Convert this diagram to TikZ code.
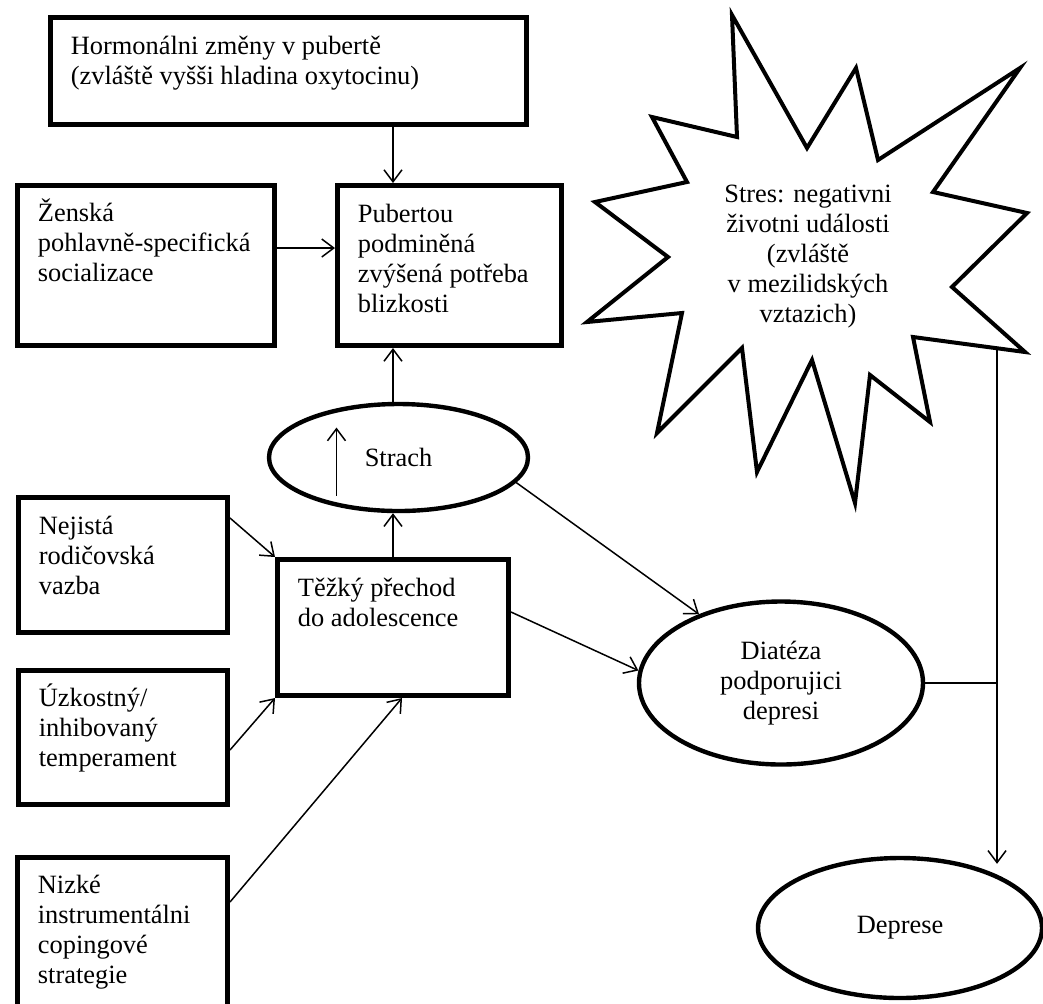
\documentclass[tikz,border=0pt]{standalone}
\usepackage{fontspec}
\setmainfont{Liberation Serif}
\usetikzlibrary{arrows.meta, shapes.geometric, calc}

\begin{document}
\begin{tikzpicture}[
  x=0.5pt, y=-0.5pt,
  >={Straight Barb[length=6pt, width=9pt]},
  every node/.style = {font=\fontsize{13.2}{15}\selectfont},
  box/.style    = {draw, rectangle, line width=2.5pt, inner sep=0pt},
  oval/.style   = {draw, ellipse, line width=2.2pt, inner sep=0pt, align=center},
  intext/.style = {anchor=north west, align=left, inner sep=0pt, xshift=11.25pt, yshift=-10.25pt},
  hightop/.style = {yshift=2.75pt},
  link/.style   = {->, line width=0.75pt},
]
  \useasboundingbox (0,0) rectangle (1043,1003);

  % boxes
  \node[box, minimum width=238pt, minimum height=53.5pt,
        label={[intext]north west:{Hormonálni změny v pubertě\\(zvláště vyšši hladina oxytocinu)}}]
        (horm) at (288.5,71) {};
  \node[box, minimum width=128.5pt, minimum height=80pt,
        label={[intext, hightop]north west:{Ženská\\pohlavně-specifická\\socializace}}]
        (zensk) at (146,265.5) {};
  \node[box, minimum width=112pt, minimum height=80pt,
        label={[intext]north west:{Pubertou\\podminěná\\zvýšená potřeba\\blizkosti}}]
        (pub) at (449.5,265.5) {};
  \node[box, minimum width=104.5pt, minimum height=67.5pt,
        label={[intext]north west:{Nejistá\\rodičovská\\vazba}}]
        (nejist) at (123,565) {};
  \node[box, minimum width=104.5pt, minimum height=67pt,
        label={[intext, hightop]north west:{Úzkostný/\\inhibovaný\\temperament}}]
        (uzk) at (123,737.5) {};
  \node[box, minimum width=105pt, minimum height=79pt,
        label={[intext]north west:{Nizké\\instrumentálni\\copingové\\strategie}}]
        (nizk) at (122.5,936) {};
  \node[box, minimum width=115.5pt, minimum height=68pt,
        label={[intext]north west:{Těžký přechod\\do adolescence}}]
        (tezky) at (393,627.5) {};

  % ellipses
  \node[oval, minimum width=129.5pt, minimum height=53.5pt] (strach) at (398.5,457.5) {Strach};
  \node[oval, minimum width=142pt, minimum height=81.5pt]   (diat)   at (781,683)     {Diatéza\\podporujici\\depresi};
  \node[oval, minimum width=142pt, minimum height=70pt]     (depr)   at (900,928)     {Deprese};

  % stress star
  \draw[line width=2pt] (732,15) -- (807,148) -- (856,68) -- (878,160) -- (1020,68) -- (933,192)
    -- (1027,213) -- (952,287) -- (1025,352) -- (913,337) -- (930,422) -- (870,375)
    -- (855,503) -- (812,360) -- (757,472) -- (742,348) -- (657,433) -- (682,313)
    -- (587,322) -- (668,257) -- (595,202) -- (687,182) -- (652,117) -- (737,137) -- cycle;
  \node[align=center] (stres) at (808,257) {Stres: negativni\\životni události\\(zvláště\\v mezilidských\\vztazich)};
  \coordinate (sedge) at (997,349);

  % connectors
  \draw[link] (horm.south -| tezky) -- (pub.north -| tezky);
  \draw[link] ([yshift=8.75pt]zensk.east) -- ([yshift=8.75pt]pub.west);
  \draw[link] (strach.north -| tezky) -- (pub.south -| tezky);
  \draw[link] (tezky.north) -- (strach.south -| tezky);
  \draw[link] ([shift={(-31pt,-19pt)}]strach.center) -- ++(0,34pt);
  \draw[link] ([yshift=-11.5pt]nejist.north east) -- (tezky.north west);
  \draw[link] ([yshift=-6.25pt]uzk.east) -- (tezky.south west);
  \draw[link] ([yshift=17pt]nizk.east) -- ([xshift=4.5pt]tezky.south);
  \draw[link] (strach.-12) -- (diat.140);
  \draw[link] ([yshift=7.75pt]tezky.east) -- (diat.175);
  \draw[line width=0.75pt] (diat.east) -- (diat.east -| sedge);
  \draw[link] (sedge) -- ($(sedge |- depr.north)+(0,8)$);
\end{tikzpicture}
\end{document}
